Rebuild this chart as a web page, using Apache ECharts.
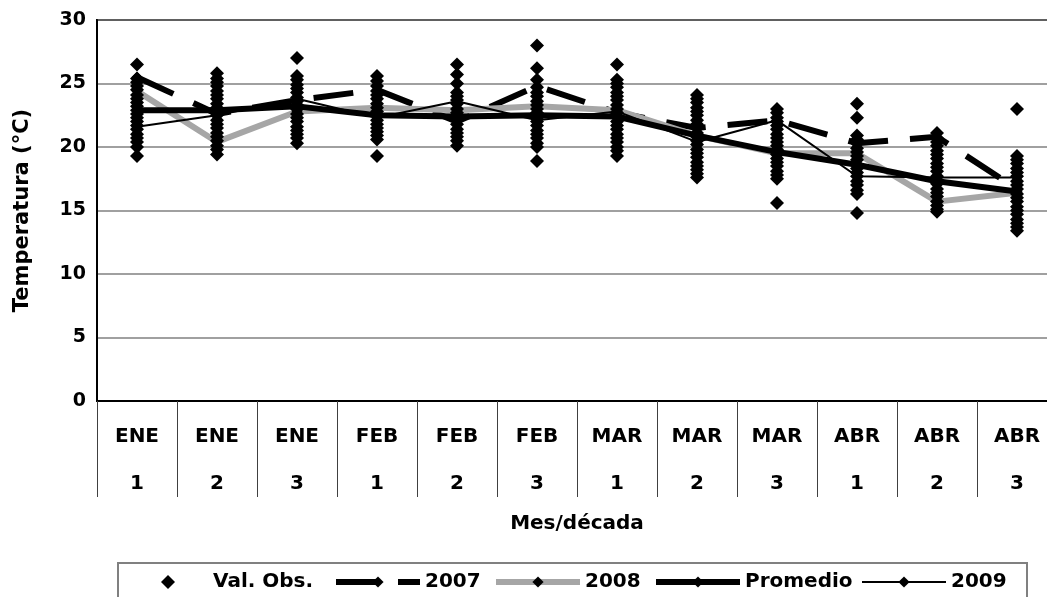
<!DOCTYPE html>
<html>
<head>
<meta charset="utf-8">
<script src="https://cdn.jsdelivr.net/npm/echarts@6/dist/echarts.min.js"></script>
<style>
  html, body { margin: 0; padding: 0; background: #fff; }
  #chart { width: 1047px; height: 597px; }
</style>
</head>
<body>
<div id="chart"></div>
<script>
// Month / ten-day period of each category
const meses = ['ENE', 'ENE', 'ENE', 'FEB', 'FEB', 'FEB', 'MAR', 'MAR', 'MAR', 'ABR', 'ABR', 'ABR'];
const decadas = ['1', '2', '3', '1', '2', '3', '1', '2', '3', '1', '2', '3'];

// Observed values per period (°C)
const obsENE1 = [26.5, 25.4, 25.1, 24.8, 24.5, 24.1, 23.8, 23.5, 23.2, 22.9, 22.6, 22.3, 22.0, 21.7, 21.4, 21.0, 20.7, 20.4, 20.0, 19.3];
const obsENE2 = [25.8, 25.4, 25.1, 24.8, 24.4, 24.1, 23.8, 23.4, 23.1, 22.8, 22.5, 22.1, 21.8, 21.5, 21.1, 20.8, 20.5, 20.1, 19.8, 19.4];
const obsENE3 = [27.0, 25.6, 25.3, 24.9, 24.6, 24.3, 23.9, 23.6, 23.3, 23.0, 22.6, 22.3, 22.0, 21.6, 21.3, 21.0, 20.7, 20.3];
const obsFEB1 = [25.6, 25.2, 24.8, 24.4, 24.1, 23.8, 23.4, 23.1, 22.8, 22.5, 22.1, 21.8, 21.5, 21.2, 20.9, 20.6, 19.3];
const obsFEB2 = [26.5, 25.7, 25.0, 24.3, 24.0, 23.7, 23.4, 23.0, 22.7, 22.4, 22.1, 21.8, 21.4, 21.1, 20.8, 20.5, 20.1];
const obsFEB3 = [28.0, 26.2, 25.3, 24.7, 24.3, 24.0, 23.6, 23.3, 23.0, 22.7, 22.3, 22.0, 21.7, 21.3, 21.0, 20.7, 20.3, 20.0, 18.9];
const obsMAR1 = [26.5, 25.3, 25.0, 24.7, 24.3, 24.0, 23.7, 23.3, 23.0, 22.7, 22.4, 22.0, 21.7, 21.4, 21.0, 20.7, 20.4, 20.0, 19.7, 19.3];
const obsMAR2 = [24.1, 23.8, 23.5, 23.1, 22.8, 22.5, 22.1, 21.8, 21.5, 21.1, 20.8, 20.5, 20.2, 19.8, 19.5, 19.2, 18.8, 18.5, 18.2, 17.9, 17.6];
const obsMAR3 = [23.0, 22.7, 22.3, 22.0, 21.7, 21.4, 21.0, 20.7, 20.4, 20.1, 19.8, 19.4, 19.1, 18.8, 18.5, 18.1, 17.8, 17.5, 15.6];
const obsABR1 = [23.4, 22.3, 20.9, 20.6, 20.3, 19.9, 19.6, 19.3, 19.0, 18.6, 18.3, 18.0, 17.7, 17.3, 17.0, 16.6, 16.3, 14.8];
const obsABR2 = [21.1, 20.7, 20.4, 20.1, 19.7, 19.4, 19.1, 18.7, 18.4, 18.1, 17.7, 17.4, 17.1, 16.7, 16.4, 16.1, 15.7, 15.4, 15.1, 14.9];
const obsABR3 = [23.0, 19.3, 19.0, 18.7, 18.3, 18.0, 17.7, 17.3, 17.0, 16.7, 16.3, 16.0, 15.7, 15.3, 15.0, 14.7, 14.3, 14.0, 13.7, 13.4];

// Yearly and mean series (°C)
const serie2007 = [25.5, 22.6, 23.7, 24.5, 22.0, 24.8, 22.7, 21.5, 22.1, 20.3, 20.8, 16.7];
const serie2008 = [24.4, 20.4, 22.8, 23.1, 22.9, 23.2, 22.9, 20.9, 19.5, 19.5, 15.7, 16.4];
const promedio  = [22.9, 22.9, 23.2, 22.5, 22.4, 22.5, 22.4, 20.9, 19.6, 18.6, 17.3, 16.5];
const serie2009 = [21.6, 22.5, 23.8, 22.3, 23.6, 22.1, 22.8, 20.4, 22.1, 17.7, 17.6, 17.6];

// Y-axis ticks
const yMin = 0, yMax = 30, yStep = 5;

const categorias = meses.map((m, i) => m + '\n' + decadas[i]);
const observados = [obsENE1, obsENE2, obsENE3, obsFEB1, obsFEB2, obsFEB3,
                    obsMAR1, obsMAR2, obsMAR3, obsABR1, obsABR2, obsABR3];
const puntosObs = [];
observados.forEach((vals, i) => vals.forEach(v => puntosObs.push([i, v])));

const FONT = '"DejaVu Sans", Verdana, sans-serif';
const txt = { fontFamily: FONT, fontWeight: 'bold', fontSize: 20, color: '#000' };

const chart = echarts.init(document.getElementById('chart'), null, { renderer: 'canvas' });

function legendItem(name, left, extra) {
  return Object.assign({
    data: [name], left: left, top: 571, orient: 'horizontal',
    itemWidth: 84, itemHeight: 14, padding: 0, selectedMode: false,
    lineStyle: { width: 'inherit', type: 'inherit' },
    textStyle: Object.assign({}, txt, { lineHeight: 22 })
  }, extra || {});
}

chart.setOption({
  animation: false,
  backgroundColor: '#fff',
  grid: {
    left: 97, right: -10, top: 20, bottom: 196,
    outerBoundsMode: 'none',
    containLabel: false,
    show: true, borderColor: '#000', borderWidth: 2, backgroundColor: 'transparent'
  },
  xAxis: {
    type: 'category',
    data: categorias,
    boundaryGap: true,
    name: 'Mes/década',
    nameLocation: 'middle',
    nameGap: 113,
    nameTextStyle: txt,
    axisLine: { show: true, lineStyle: { color: '#000', width: 2 } },
    axisTick: { show: true, length: 96, inside: false, lineStyle: { color: '#404040', width: 1 } },
    axisLabel: Object.assign({}, txt, { margin: 12, lineHeight: 47, interval: 0 }),
    splitLine: { show: false }
  },
  yAxis: {
    type: 'value',
    min: yMin, max: yMax, interval: yStep,
    name: 'Temperatura (°C)',
    nameLocation: 'middle',
    nameGap: 64,
    nameRotate: 90,
    nameTextStyle: Object.assign({}, txt, { fontSize: 21 }),
    axisLine: { show: true, lineStyle: { color: '#000', width: 2 } },
    axisTick: { show: false },
    axisLabel: Object.assign({}, txt, { fontSize: 19, margin: 11 }),
    splitLine: { show: true, lineStyle: { color: '#808080', width: 1.5 } }
  },
  legend: [
    legendItem('Val. Obs.', 161, {
      itemWidth: 14, itemHeight: 14,
      data: [{ name: 'Val. Obs.', icon: 'diamond' }],
      textStyle: Object.assign({}, txt, { lineHeight: 22, padding: [0, 0, 0, 33] })
    }),
    legendItem('2007', 333),
    legendItem('2008', 493),
    legendItem('Promedio', 653),
    legendItem('2009', 861)
  ],
  graphic: [{
    type: 'rect', silent: true,
    shape: { x: 118, y: 563, width: 909, height: 60 },
    style: { fill: 'none', stroke: '#808080', lineWidth: 2 }
  }],
  series: [
    {
      name: 'Val. Obs.', type: 'scatter', data: puntosObs, z: 5,
      symbol: 'diamond', symbolSize: [14, 14],
      itemStyle: { color: '#000', opacity: 1 }
    },
    {
      name: '2007', type: 'line', data: serie2007, z: 2,
      symbol: 'diamond', symbolSize: 11, showSymbol: true,
      itemStyle: { color: '#000' },
      lineStyle: { color: '#000', width: 6, type: [40, 22] }
    },
    {
      name: '2008', type: 'line', data: serie2008, z: 2,
      symbol: 'diamond', symbolSize: 11, showSymbol: true,
      itemStyle: { color: '#000' },
      lineStyle: { color: '#a6a6a6', width: 6 }
    },
    {
      name: 'Promedio', type: 'line', data: promedio, z: 3,
      symbol: 'diamond', symbolSize: 11, showSymbol: true,
      itemStyle: { color: '#000' },
      lineStyle: { color: '#000', width: 6 }
    },
    {
      name: '2009', type: 'line', data: serie2009, z: 4,
      symbol: 'diamond', symbolSize: 11, showSymbol: true,
      itemStyle: { color: '#000' },
      lineStyle: { color: '#000', width: 2 }
    }
  ]
});
</script>
</body>
</html>
